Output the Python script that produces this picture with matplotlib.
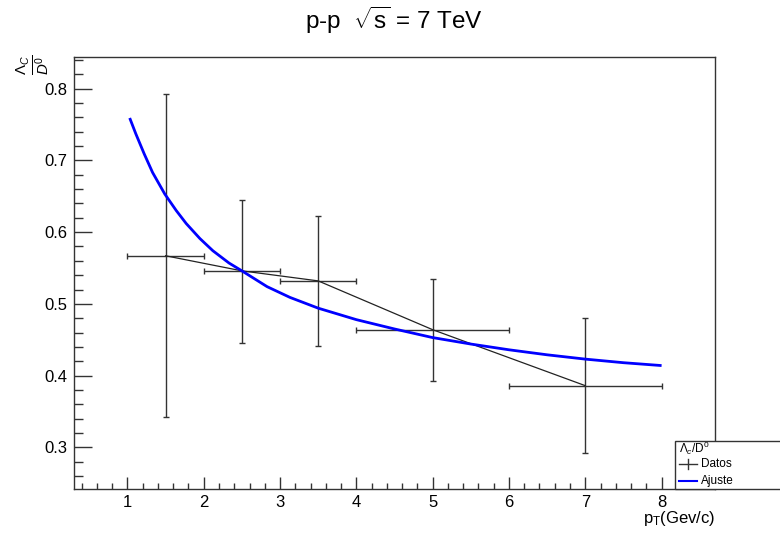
import matplotlib
matplotlib.use("Agg")
import matplotlib.pyplot as plt
from matplotlib.ticker import MultipleLocator
from matplotlib.patches import Rectangle
from matplotlib.lines import Line2D

plt.rcParams['font.family'] = ['Liberation Sans', 'DejaVu Sans']
plt.rcParams['mathtext.fontset'] = 'custom'
plt.rcParams['mathtext.rm'] = 'Liberation Sans'
plt.rcParams['mathtext.it'] = 'Liberation Sans:italic'
plt.rcParams['mathtext.bf'] = 'Liberation Sans:bold'

# Data points (Lambda_c / D0 ratio)
pt = [1.5, 2.5, 3.5, 5.0, 7.0]
pt_err = [0.5, 0.5, 0.5, 1.0, 1.0]
ratio = [0.567, 0.546, 0.532, 0.464, 0.386]
err_up = [0.226, 0.099, 0.090, 0.070, 0.094]
err_dn = [0.225, 0.100, 0.091, 0.072, 0.094]

# Fit curve
fit_x = [1.03, 1.11, 1.22, 1.33, 1.49, 1.64, 1.77, 1.95, 2.12, 2.33, 2.5,
         2.83, 3.13, 3.5, 4.0, 4.5, 5.0, 5.5, 6.0, 6.5, 7.0, 7.5, 8.0]
fit_y = [0.759, 0.737, 0.709, 0.683, 0.653, 0.630, 0.612, 0.591, 0.574,
         0.557, 0.546, 0.524, 0.509, 0.494, 0.478, 0.465, 0.453, 0.444,
         0.436, 0.429, 0.423, 0.418, 0.414]

W, H = 780, 534
fig = plt.figure(figsize=(7.8, 5.34), dpi=100)
ax = fig.add_axes([74 / W, 1 - 489 / H, (715 - 74) / W, (489 - 57) / H])

axcol = '#333333'
ax.errorbar(pt, ratio, xerr=pt_err, yerr=[err_dn, err_up], fmt='none',
            ecolor='#333333', elinewidth=1.0, capsize=2, capthick=1.0, zorder=2)
ax.plot(pt, ratio, color='#222222', lw=0.9, zorder=2)
ax.plot(fit_x, fit_y, color='#0000ff', lw=2.0, zorder=3,
        solid_joinstyle='round', solid_capstyle='butt')

ax.set_xlim(0.3, 8.7)
ax.set_ylim(0.242, 0.844)
ax.xaxis.set_minor_locator(MultipleLocator(0.2))
ax.yaxis.set_minor_locator(MultipleLocator(0.02))
ax.set_xticks([1, 2, 3, 4, 5, 6, 7, 8])
ax.set_xticklabels(['1', '2', '3', '4', '5', '6', '7', '8'])
ax.set_yticks([0.3, 0.4, 0.5, 0.6, 0.7, 0.8])
ax.set_yticklabels(['0.3', '0.4', '0.5', '0.6', '0.7', '0.8'])

ax.tick_params(axis='x', which='major', direction='in', length=9, width=1,
               color=axcol, labelsize=12, pad=4, top=False)
ax.tick_params(axis='x', which='minor', direction='in', length=4.5, width=1,
               color=axcol, top=False)
ax.tick_params(axis='y', which='major', direction='in', length=13, width=1,
               color=axcol, labelsize=12, pad=5, right=False)
ax.tick_params(axis='y', which='minor', direction='in', length=6.5, width=1,
               color=axcol, right=False)
for s in ax.spines.values():
    s.set_color(axcol)
    s.set_linewidth(1.0)

# Title
fig.text(394 / W, 1 - 20 / H, r'p-p  $\sqrt{\mathrm{s}}$ = 7 TeV', ha='center', va='center',
         fontsize=17.5)

# Axis labels
fig.text(33 / W, 1 - 65 / H, r'$\frac{\Lambda_{C}}{D^{0}}$', rotation=90,
         ha='center', va='center', fontsize=15.5)
fig.text(715 / W, 1 - 519 / H, r'p$_{\mathrm{T}}$(Gev/c)', ha='right', va='center',
         fontsize=12)

# Legend box (manual, ROOT style)
fig.patches.append(Rectangle((675 / W, 1 - 489 / H), 0.2, 48 / H,
                             transform=fig.transFigure, facecolor='white',
                             edgecolor=axcol, lw=1.0, zorder=5))
fig.text(679 / W, 1 - 448 / H, r'$\Lambda_{c}$/D$^{0}$', ha='left', va='center',
         fontsize=8.5, zorder=6)
fig.lines.append(Line2D([679 / W, 697 / W], [1 - 464 / H, 1 - 464 / H],
                        transform=fig.transFigure, color='#333333', lw=1, zorder=6))
fig.lines.append(Line2D([688 / W, 688 / W], [1 - 459 / H, 1 - 469 / H],
                        transform=fig.transFigure, color='#333333', lw=1, zorder=6))
fig.text(701 / W, 1 - 464 / H, 'Datos', ha='left', va='center', fontsize=8.5, zorder=6)
fig.lines.append(Line2D([679 / W, 697 / W], [1 - 481 / H, 1 - 481 / H],
                        transform=fig.transFigure, color='#0000ff', lw=1.5, zorder=6))
fig.text(701 / W, 1 - 481 / H, 'Ajuste', ha='left', va='center', fontsize=8.5, zorder=6)

fig.savefig('out.png', dpi=100)
